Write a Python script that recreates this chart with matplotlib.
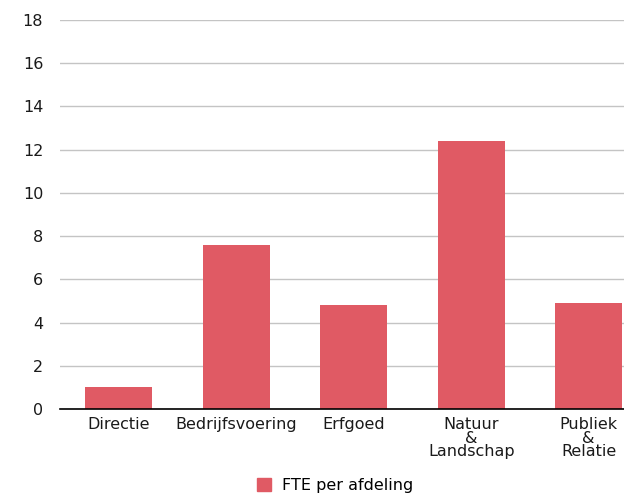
import matplotlib
matplotlib.use('Agg')
from matplotlib import pyplot as plt
from matplotlib.patches import Patch

categories = ['Directie', 'Bedrijfsvoering', 'Erfgoed', 'Natuur\n&\nLandschap', 'Publiek\n&\nRelatie']
fte = [1.0, 7.6, 4.8, 12.4, 4.9]
yticks = [0, 2, 4, 6, 8, 10, 12, 14, 16, 18]
series_name = 'FTE per afdeling'

RED = '#e05a64'
plt.rcParams['font.family'] = ['DejaVu Sans']

fig = plt.figure(figsize=(6.24, 4.95), dpi=100)
ax = fig.add_axes([0.096, 0.1737, 0.904, 0.786])

x = list(range(len(categories)))
ax.bar(x, fte, width=0.57, color=RED, zorder=3)

ax.set_xlim(-0.5, 4.3)
ax.set_ylim(0, 18)
ax.set_yticks(yticks)
ax.set_xticks(x)
ax.set_xticklabels(categories, fontsize=11.5, color='#1a1a1a', linespacing=0.88)
ax.tick_params(axis='y', labelsize=11.5, labelcolor='#1a1a1a', length=0, pad=12)
ax.tick_params(axis='x', length=0, pad=6)

ax.grid(axis='y', color='#c4c4c4', linewidth=1, zorder=0)
for s in ['top', 'right', 'left']:
    ax.spines[s].set_visible(False)
ax.spines['bottom'].set_color('black')
ax.spines['bottom'].set_linewidth(1.2)
ax.spines['bottom'].set_zorder(4)

fig.legend(handles=[Patch(color=RED, label=series_name)], loc='center',
           bbox_to_anchor=(0.537, 0.02), frameon=False, fontsize=11.5,
           handlelength=0.9, handleheight=0.9, handletextpad=0.7)

fig.savefig('out.png', dpi=100)
